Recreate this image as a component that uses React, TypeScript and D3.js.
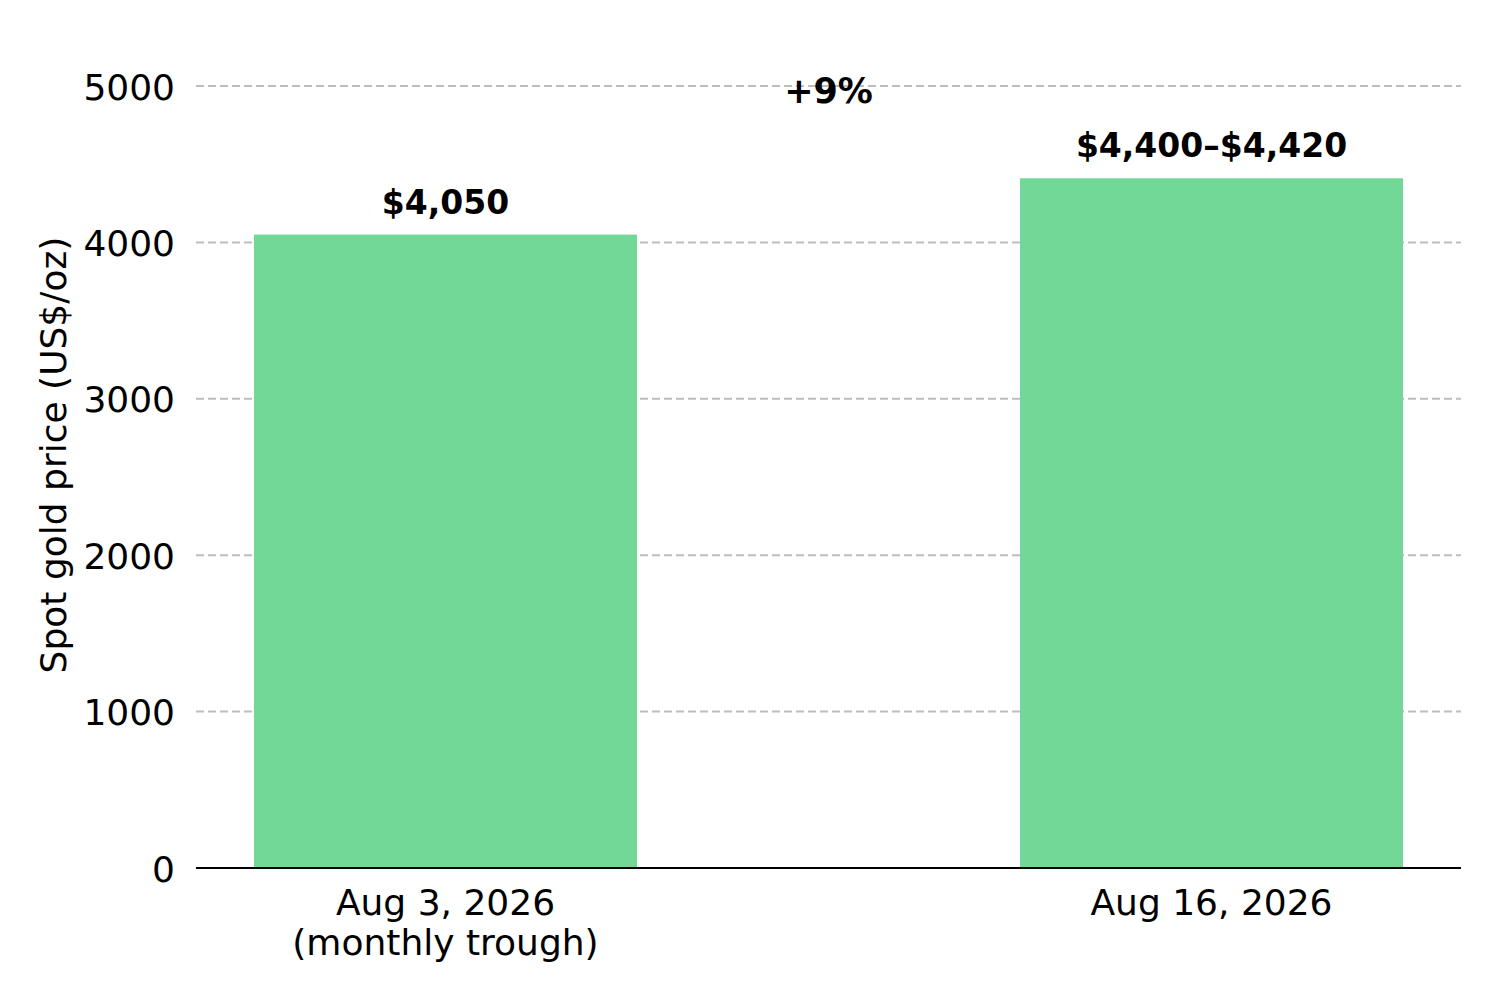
import React from 'react';
import * as d3 from 'd3';

const categories = ['Aug 3, 2026\n(monthly trough)', 'Aug 16, 2026'];
const prices = [4050, 4410];
const barLabels = ['$4,050', '$4,400–$4,420'];
const changeLabel = '+9%';
const yTicks = [0, 1000, 2000, 3000, 4000, 5000];

const WIDTH = 1500;
const HEIGHT = 1000;
const MARGIN = { top: 86, right: 39, bottom: 132, left: 196 };
const FONT = 'DejaVu Sans, sans-serif';

export default function App() {
  const boundsWidth = WIDTH - MARGIN.left - MARGIN.right;
  const boundsHeight = HEIGHT - MARGIN.top - MARGIN.bottom;

  const xScale = d3
    .scaleBand()
    .domain(categories)
    .range([0, boundsWidth])
    .paddingInner(0.5)
    .paddingOuter(0.0757);

  const yScale = d3.scaleLinear().domain([0, 5000]).range([boundsHeight, 0]);

  const grid = yTicks.map((value) => (
    <g key={value}>
      {value > 0 && (
        <line
          x1={0}
          x2={boundsWidth}
          y1={yScale(value)}
          y2={yScale(value)}
          stroke="#bdbdbd"
          strokeWidth={2}
          strokeDasharray="8,4"
        />
      )}
      <text
        x={-21}
        y={yScale(value) + 1}
        textAnchor="end"
        dominantBaseline="central"
        fontSize={36}
        fill="#000"
      >
        {value}
      </text>
    </g>
  ));

  const bars = categories.map((c, i) => {
    const x = xScale(c) ?? 0;
    const cx = x + xScale.bandwidth() / 2;
    const lines = c.split('\n');
    return (
      <g key={c}>
        <rect
          x={x}
          y={yScale(prices[i])}
          width={xScale.bandwidth()}
          height={boundsHeight - yScale(prices[i])}
          fill="#72d898"
        />
        <text
          x={cx}
          y={yScale(prices[i]) - 21}
          textAnchor="middle"
          fontSize={33}
          fontWeight="bold"
          fill="#000"
        >
          {barLabels[i]}
        </text>
        {lines.map((l, j) => (
          <text
            key={j}
            x={cx}
            y={boundsHeight + 47 + j * 40}
            textAnchor="middle"
            fontSize={36}
            fill="#000"
          >
            {l}
          </text>
        ))}
      </g>
    );
  });

  const midX =
    ((xScale(categories[0]) ?? 0) + (xScale(categories[1]) ?? 0) + xScale.bandwidth()) / 2;

  return (
    <svg
      width={WIDTH}
      height={HEIGHT}
      style={{ position: 'absolute', left: 0, top: 0, background: '#fff' }}
      fontFamily={FONT}
    >
      <g transform={`translate(${MARGIN.left},${MARGIN.top})`}>
        {grid}
        {bars}
        <line x1={0} x2={boundsWidth} y1={boundsHeight} y2={boundsHeight} stroke="#000" strokeWidth={2} />
        <text
          x={midX}
          y={yScale(d3.max(prices) ?? 0) - 75}
          textAnchor="middle"
          fontSize={35}
          fontWeight="bold"
          fill="#000"
        >
          {changeLabel}
        </text>
      </g>
      <text
        transform={`translate(66,${MARGIN.top + boundsHeight / 2 - 22}) rotate(-90)`}
        textAnchor="middle"
        fontSize={36}
        fill="#000"
      >
        Spot gold price (US$/oz)
      </text>
    </svg>
  );
}
